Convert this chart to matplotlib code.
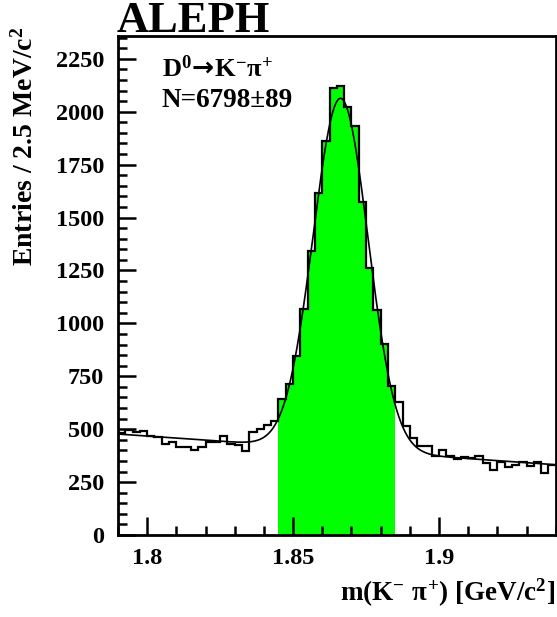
"""D0 -> K- pi+ mass peak: 2.5 MeV bins with the fitted Gaussian + linear
background drawn on top, signal window shaded. Writes out.png."""
import numpy as np
import matplotlib
matplotlib.use("Agg")
import matplotlib.pyplot as plt
from matplotlib.ticker import MultipleLocator, FuncFormatter

# ---- data: entries per 2.5 MeV/c^2 bin, 1.79 .. 1.94 GeV/c^2 ----
M_LO, M_HI, BIN_W = 1.79, 1.94, 0.0025
counts = [480, 495, 487, 492, 470, 462, 428, 440, 416, 416,
          403, 418, 439, 439, 469, 430, 426, 397, 486, 502,
          518, 538, 642, 715, 848, 1070, 1340, 1614, 1862, 2112,
          2122, 2021, 1934, 1571, 1260, 1063, 903, 706, 627, 516,
          460, 422, 422, 372, 400, 372, 360, 369, 362, 371,
          340, 305, 343, 321, 332, 343, 327, 343, 292, 332]
SIG_LO, SIG_HI = 1.845, 1.885          # shaded signal window

# fit result: Gaussian on a linear background
FIT_MEAN = 1.8663
FIT_SIGMA = 0.0094
FIT_AMP = 1660.0
BKG_AT_LO = 477.0                       # background at M_LO
BKG_AT_HI = 332.0                       # background at M_HI

Y_MAX = 2360
# arrow taken from the sf slot (DejaVu) - the Liberation arrow is tiny
LABEL_DECAY = r"D$^{0}\!\mathsf{\rightarrow}\!$K$^{-}$$\pi^{+}$"
LABEL_N = "N=6798\u00b189"

# ---- style: bold Times-like text throughout ----
SERIF = "Liberation Serif"
plt.rcParams.update({
    "font.family": [SERIF, "DejaVu Serif"], "font.weight": "bold",
    "mathtext.fontset": "custom",
    "mathtext.rm": f"{SERIF}:bold", "mathtext.it": f"{SERIF}:bold",
    "mathtext.bf": f"{SERIF}:bold", "mathtext.sf": "DejaVu Sans",
})
GREEN = "#00ff00"
INK = "black"

counts = np.asarray(counts, dtype=float)
edges = M_LO + BIN_W * np.arange(len(counts) + 1)
sig = (edges[:-1] >= SIG_LO - 1e-9) & (edges[1:] <= SIG_HI + 1e-9)
sig_idx = np.flatnonzero(sig)

fig = plt.figure(figsize=(5.57, 6.17), dpi=100)
ax = fig.add_axes([118 / 557, 82 / 617, 437.7 / 557, 499.5 / 617])

# signal window fill, then the full outline
ax.stairs(counts[sig_idx], edges[sig_idx[0]:sig_idx[-1] + 2], fill=True,
          color=GREEN, baseline=0, zorder=1)
ax.stairs(counts, edges, baseline=None, color=INK, lw=1.6, zorder=2)

# fitted curve
m = np.linspace(M_LO, M_HI, 600)
bkg = BKG_AT_LO + (BKG_AT_HI - BKG_AT_LO) * (m - M_LO) / (M_HI - M_LO)
fit = bkg + FIT_AMP * np.exp(-0.5 * ((m - FIT_MEAN) / FIT_SIGMA) ** 2)
ax.plot(m, fit, color=INK, lw=1.2, zorder=3)

ax.set_xlim(M_LO, M_HI)
ax.set_ylim(0, Y_MAX)

ax.xaxis.set_major_locator(MultipleLocator(0.05))
ax.xaxis.set_minor_locator(MultipleLocator(0.01))
ax.yaxis.set_major_locator(MultipleLocator(250))
ax.yaxis.set_minor_locator(MultipleLocator(50))
ax.xaxis.set_major_formatter(FuncFormatter(lambda v, _: f"{v:g}"))
ax.yaxis.set_major_formatter(FuncFormatter(lambda v, _: f"{int(round(v))}"))

ax.tick_params(which="both", direction="in", top=False, right=False,
               width=1.8, colors=INK, labelsize=17.5, zorder=5)
ax.tick_params(which="major", length=13)
ax.tick_params(which="minor", length=6.5)
ax.tick_params(axis="y", pad=10)
ax.tick_params(axis="x", pad=9)
for s in ax.spines.values():
    s.set_linewidth(2.0)
    s.set_zorder(6)

ax.text((162 - 118) / 437.7, (535.5 - 77) / 499.5, LABEL_DECAY, transform=ax.transAxes,
        fontsize=19, va="baseline", ha="left")
ax.text((162 - 118) / 437.7, (535.5 - 107) / 499.5, LABEL_N, transform=ax.transAxes,
        fontsize=19.5, va="baseline", ha="left")

fig.text(117 / 557, 1 - 32 / 617, "ALEPH", fontsize=32, ha="left", va="baseline")
fig.text(555 / 557, 1 - 601 / 617, r"m(K$^{-}$ $\pi^{+}$) [GeV/c$^{2}$]",
         fontsize=19.5, ha="right", va="baseline")
fig.text(25 / 557, 1 - 27 / 617, r"Entries / 2.5 MeV/c$^{2}$", fontsize=20,
         rotation=90, ha="center", va="top")

fig.savefig("out.png", dpi=100, facecolor="white")
